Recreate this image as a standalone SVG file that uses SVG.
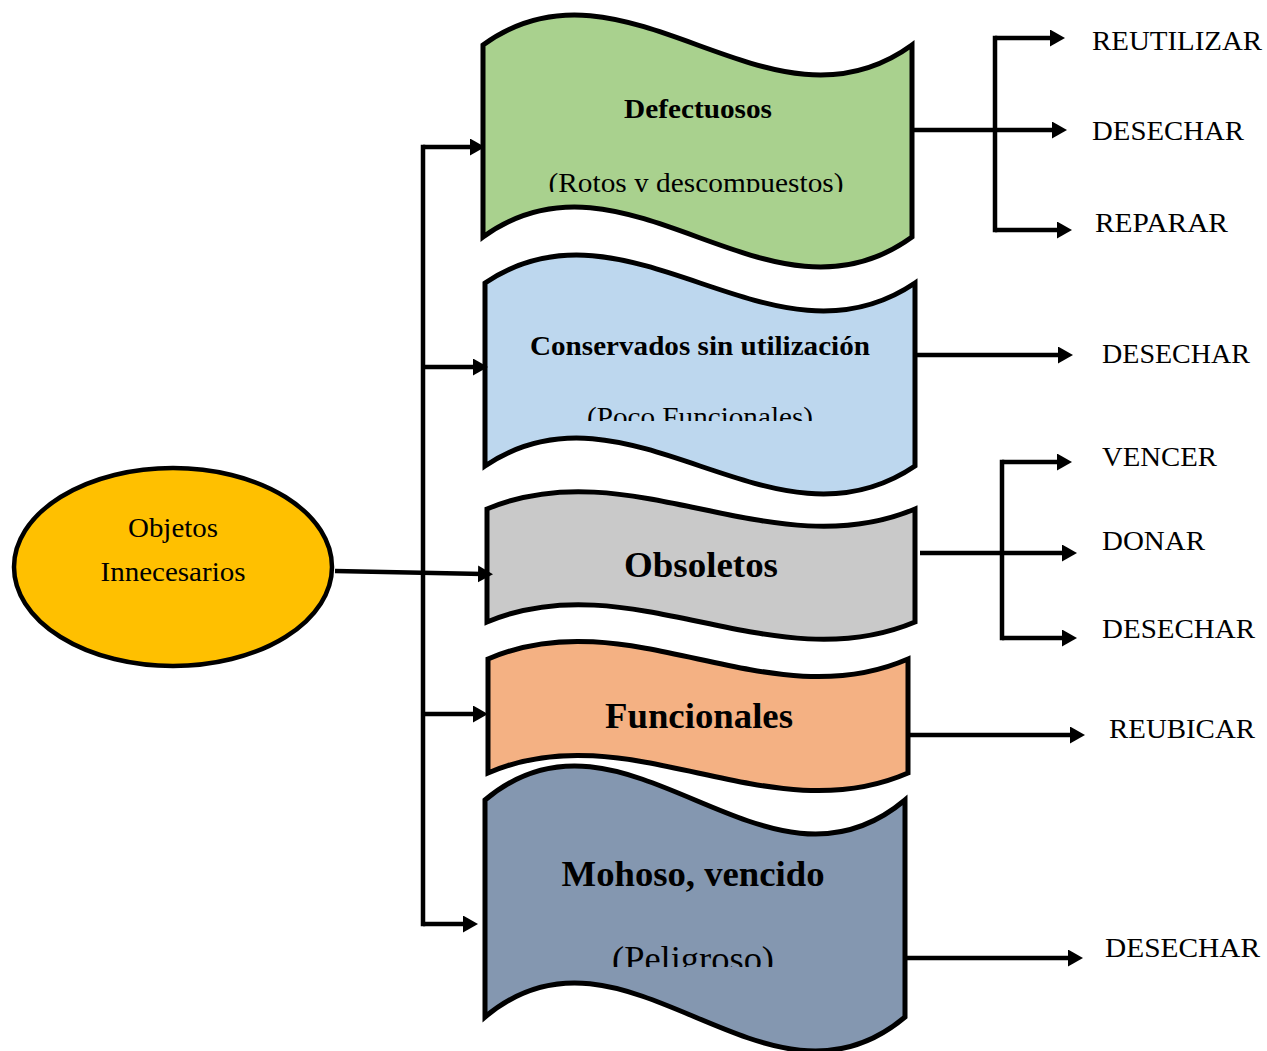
<svg xmlns="http://www.w3.org/2000/svg" width="1267" height="1051" viewBox="0 0 1267 1051">
<style>
.shape{stroke:#000;stroke-width:5;stroke-linejoin:miter}
.conn{stroke:#000;stroke-width:4.5;fill:none}
.bar{stroke:#000;stroke-width:4.5;fill:none;stroke-linecap:square}
.t{font-family:"Liberation Serif","Times New Roman",serif;fill:#000}
.b{font-weight:bold}
.lbl{font-family:"Liberation Serif","Times New Roman",serif;font-size:28px;fill:#000}
</style>
<defs>
<marker id="ah" markerUnits="userSpaceOnUse" markerWidth="16" markerHeight="18" refX="5" refY="8.5" orient="auto">
<path d="M0,0 L15,8.5 L0,17 Z" fill="#000"/>
</marker>
<clipPath id="c1"><rect x="480" y="150" width="440" height="42"/></clipPath>
<clipPath id="c2"><rect x="480" y="380" width="440" height="41"/></clipPath>
<clipPath id="c3"><rect x="480" y="920" width="440" height="47"/></clipPath>
</defs>

<g id="node-objetos">
<ellipse cx="173" cy="567" rx="159" ry="99" fill="#FFC000" stroke="#000" stroke-width="4.5"/>
<text class="t" x="173" y="537" font-size="27" text-anchor="middle" textLength="90" lengthAdjust="spacingAndGlyphs">Objetos</text>
<text class="t" x="173" y="581" font-size="27" text-anchor="middle" textLength="145" lengthAdjust="spacingAndGlyphs">Innecesarios</text>
</g>

<g id="node-defectuosos">
<path class="shape" fill="#A9D18E" d="M483,45 C626,-59 769,149 912,45 L912,237 C769,341 626,133 483,237 Z"/>
<text class="t b" x="698" y="118" font-size="27" text-anchor="middle" textLength="148" lengthAdjust="spacingAndGlyphs">Defectuosos</text>
<text class="t" x="696" y="192" font-size="27" text-anchor="middle" textLength="295" lengthAdjust="spacingAndGlyphs" clip-path="url(#c1)">(Rotos y descompuestos)</text>
</g>

<g id="node-conservados">
<path class="shape" fill="#BDD7EE" d="M485,283 C628,186 772,380 915,283 L915,466 C772,563 628,369 485,466 Z"/>
<text class="t b" x="700" y="355" font-size="27" text-anchor="middle" textLength="340" lengthAdjust="spacingAndGlyphs">Conservados sin utilización</text>
<text class="t" x="700" y="426" font-size="27" text-anchor="middle" textLength="226" lengthAdjust="spacingAndGlyphs" clip-path="url(#c2)">(Poco Funcionales)</text>
</g>

<g id="node-obsoletos">
<path class="shape" fill="#C9C9C9" d="M487,509 C630,449 772,569 915,509 L915,622 C772,682 630,562 487,622 Z"/>
<text class="t b" x="701" y="577" font-size="36" text-anchor="middle" textLength="154" lengthAdjust="spacingAndGlyphs">Obsoletos</text>
</g>

<g id="node-funcionales">
<path class="shape" fill="#F4B183" d="M488,659 C628,598 768,720 908,659 L908,773 C768,834 628,712 488,773 Z"/>
<text class="t b" x="699" y="728" font-size="36" text-anchor="middle" textLength="188" lengthAdjust="spacingAndGlyphs">Funcionales</text>
</g>

<g id="node-mohoso">
<path class="shape" fill="#8497B0" d="M485,800 C625,682 765,918 905,800 L905,1017 C765,1135 625,899 485,1017 Z"/>
<text class="t b" x="693" y="886" font-size="36" text-anchor="middle" textLength="263" lengthAdjust="spacingAndGlyphs">Mohoso, vencido</text>
<text class="t" x="693" y="971" font-size="36" text-anchor="middle" textLength="162" lengthAdjust="spacingAndGlyphs" clip-path="url(#c3)">(Peligroso)</text>
</g>

<g id="labels">
<text class="lbl" x="1092" y="50" textLength="170" lengthAdjust="spacingAndGlyphs">REUTILIZAR</text>
<text class="lbl" x="1092" y="140" textLength="152" lengthAdjust="spacingAndGlyphs">DESECHAR</text>
<text class="lbl" x="1095" y="232" textLength="133" lengthAdjust="spacingAndGlyphs">REPARAR</text>
<text class="lbl" x="1102" y="363" textLength="148" lengthAdjust="spacingAndGlyphs">DESECHAR</text>
<text class="lbl" x="1102" y="466" textLength="115" lengthAdjust="spacingAndGlyphs">VENCER</text>
<text class="lbl" x="1102" y="550" textLength="103" lengthAdjust="spacingAndGlyphs">DONAR</text>
<text class="lbl" x="1102" y="638" textLength="153" lengthAdjust="spacingAndGlyphs">DESECHAR</text>
<text class="lbl" x="1109" y="738" textLength="146" lengthAdjust="spacingAndGlyphs">REUBICAR</text>
<text class="lbl" x="1105" y="957" textLength="155" lengthAdjust="spacingAndGlyphs">DESECHAR</text>
</g>

<g id="connectors">
<path class="bar" d="M423,147 V924"/>
<path class="conn" marker-end="url(#ah)" d="M423,147 H475"/>
<path class="conn" marker-end="url(#ah)" d="M423,367 H478"/>
<path class="conn" marker-end="url(#ah)" d="M423,714 H478"/>
<path class="conn" marker-end="url(#ah)" d="M423,924 H468"/>
<path class="conn" marker-end="url(#ah)" d="M335,571 L483,574"/>

<path class="conn" marker-end="url(#ah)" d="M912,130 H1057"/>
<path class="bar" d="M995,38 V230"/>
<path class="conn" marker-end="url(#ah)" d="M995,38 H1055"/>
<path class="conn" marker-end="url(#ah)" d="M995,230 H1062"/>

<path class="conn" marker-end="url(#ah)" d="M915,355 H1063"/>

<path class="conn" marker-end="url(#ah)" d="M920,553 H1067"/>
<path class="bar" d="M1002,462 V638"/>
<path class="conn" marker-end="url(#ah)" d="M1002,462 H1062"/>
<path class="conn" marker-end="url(#ah)" d="M1002,638 H1067"/>

<path class="conn" marker-end="url(#ah)" d="M908,735 H1075"/>
<path class="conn" marker-end="url(#ah)" d="M905,958 H1073"/>
</g>
</svg>
